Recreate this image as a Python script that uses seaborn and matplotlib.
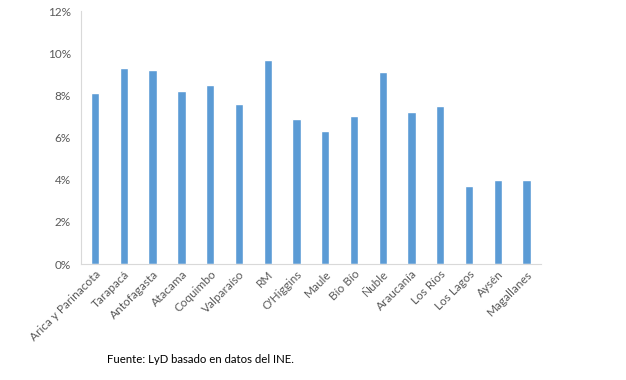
import pandas as pd
import matplotlib.pyplot as plt
import seaborn as sns
from matplotlib.ticker import PercentFormatter

# Datos
regiones = ['Arica y Parinacota', 'Tarapacá', 'Antofagasta', 'Atacama', 'Coquimbo',
            'Valparaíso', 'RM', "O'Higgins", 'Maule', 'Bío Bío', 'Ñuble',
            'Araucanía', 'Los Ríos', 'Los Lagos', 'Aysén', 'Magallanes']
tasa = [8.1, 9.3, 9.2, 8.2, 8.5, 7.6, 9.7, 6.9, 6.3, 7.0, 9.1, 7.2, 7.5, 3.7, 4.0, 4.0]

df = pd.DataFrame({'Region': regiones, 'Tasa': tasa})

sns.set_style('white')
plt.rcParams['font.family'] = ['Lato', 'DejaVu Sans']

fig = plt.figure(figsize=(6.26, 3.8), dpi=100)
ax = fig.add_axes([0.129, 0.305, 0.735, 0.666])

sns.barplot(x='Region', y='Tasa', data=df, color='#5b9bd5', saturation=1,
            width=0.29, ax=ax)

ax.set_ylim(0, 12)
ax.set_xlim(-0.5, len(regiones) - 0.5)
ax.set_yticks([0, 2, 4, 6, 8, 10, 12])
ax.yaxis.set_major_formatter(PercentFormatter(decimals=0))
ax.set_xlabel('')
ax.set_ylabel('')

for s in ['top', 'right']:
    ax.spines[s].set_visible(False)
for s in ['left', 'bottom']:
    ax.spines[s].set_color('#d9d9d9')
    ax.spines[s].set_linewidth(0.8)

ax.tick_params(axis='y', colors='#595959', labelsize=8.5, length=3, width=0.8,
               color='#d9d9d9', pad=4)
ax.tick_params(axis='x', colors='#595959', labelsize=8.5, length=0, pad=3)
plt.setp(ax.get_xticklabels(), rotation=45, ha='right', rotation_mode='anchor')

fig.text(0.171, 0.045, 'Fuente: LyD basado en datos del INE.', fontsize=8.2,
         color='black')

fig.savefig('out.png', dpi=100)
